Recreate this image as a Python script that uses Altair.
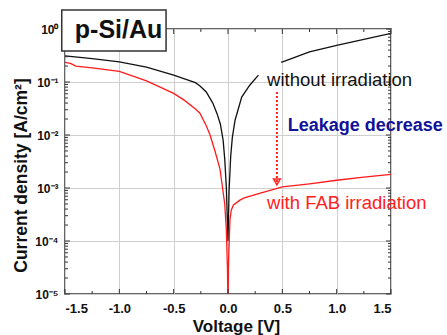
import altair as alt
import pandas as pd

# ---- data ----
black_v = [-1.5, -1.25, -1.0, -0.75, -0.5, -0.4, -0.3, -0.26, -0.2, -0.14, -0.1, -0.07, -0.045,
           -0.03, -0.015, 0.0, 0.01, 0.025, 0.04, 0.065, 0.126, 0.2, 0.28,
           0.49, 0.75, 1.0, 1.25, 1.5]
black_j = [0.31, 0.275, 0.24, 0.19, 0.135, 0.115, 0.097, 0.085, 0.065, 0.04, 0.025, 0.016, 0.008,
           0.0035, 0.001, 0.0001, 0.0009, 0.004, 0.009, 0.019, 0.052, 0.087, 0.135,
           0.235, 0.37, 0.49, 0.64, 0.83]
black_seg = [0] * 23 + [1] * 5

red_v = [-1.5, -1.45, -1.4, -1.25, -1.0, -0.75, -0.5, -0.4, -0.3, -0.26, -0.2, -0.165, -0.12,
         -0.074, -0.05, -0.03, -0.015, -0.005, 0.0, 0.004, 0.008, 0.018, 0.03, 0.05, 0.11,
         0.15, 0.29, 0.5, 0.75, 1.0, 1.25, 1.5]
red_j = [0.235, 0.225, 0.2, 0.185, 0.158, 0.105, 0.061, 0.045, 0.031, 0.026, 0.015, 0.01, 0.005,
         0.0023, 0.001, 0.0005, 0.00016, 0.00003, 0.000005, 0.00003, 0.000063, 0.00025, 0.00038,
         0.00048, 0.00059, 0.00065, 0.00079, 0.00105, 0.0012, 0.0014, 0.0016, 0.0018]

x_major = [-1.5, -1.0, -0.5, 0.0, 0.5, 1.0, 1.5]
x_minor = [-1.25, -0.75, -0.25, 0.25, 0.75, 1.25]
y_major = [1e-5, 1e-4, 1e-3, 1e-2, 1e-1, 1.0]
mantissas = [2, 3, 4, 5, 6, 7, 8, 9]
y_minor = [m * d for d in [1e-5, 1e-4, 1e-3, 1e-2, 1e-1] for m in mantissas]

arrow_v = [0.45]
arrow_top = [0.065]
arrow_bottom = [0.0013]

labels_text = ["without irradiation", "Leakage decrease", "with FAB irradiation"]
labels_v = [0.36, 0.55, 0.36]
labels_j = [0.109, 0.0148, 0.00052]
labels_color = ["#111111", "#10109a", "#ff2020"]
labels_weight = ["normal", "bold", "normal"]

box_v = [-1.53]
box_v2 = [-0.57]
box_j = [2.28]
box_j2 = [0.385]
box_tv = [-1.007]
box_tj = [0.957]

W, H = 326, 265
FONT = "Liberation Sans"
GRID = "#cfcfcf"
TICK = "#333333"

xs = alt.Scale(domain=[-1.5, 1.5], nice=False, zero=False)
ys = alt.Scale(type="log", domain=[1e-5, 1.0], nice=False)

black_df = pd.DataFrame({"V": black_v, "J": black_j, "seg": black_seg})
red_df = pd.DataFrame({"V": red_v, "J": red_j})

y_label_expr = ("datum.value >= 0.5 ? '10⁰' : datum.value >= 0.05 ? '10⁻¹' : "
                "datum.value >= 0.005 ? '10⁻²' : datum.value >= 0.0005 ? '10⁻³' : "
                "datum.value >= 0.00005 ? '10⁻⁴' : '10⁻⁵'")

black = alt.Chart(black_df).mark_line(color="#111111", strokeWidth=1.3, clip=True).encode(
    x=alt.X("V:Q", scale=xs, axis=alt.Axis(
        values=x_major, grid=True, gridColor=GRID, gridWidth=1, ticks=False, domain=False,
        labelExpr="replace(datum.label, '−', '-')",
        labelFont=FONT, labelFontWeight="bold", labelFontSize=13, labelColor="#111111",
        labelPadding=8,
        title="Voltage [V]", titleFont=FONT, titleFontWeight="bold", titleFontSize=17,
        titleColor="#111111", titleX=171, titleY=32, titleBaseline="middle",
        titleAlign="center")),
    y=alt.Y("J:Q", scale=ys, axis=alt.Axis(
        values=y_major, grid=True, gridColor=GRID, gridWidth=1, ticks=False, domain=False,
        labelExpr=y_label_expr,
        labelFont=FONT, labelFontWeight="bold", labelFontSize=12, labelColor="#111111",
        labelPadding=7,
        title="Current density [A/cm²]", titleFont=FONT, titleFontWeight="bold",
        titleFontSize=17.5, titleColor="#111111", titleX=-44, titleY=146,
        titleBaseline="middle", titleAlign="center", titleAngle=270)),
    detail="seg:N")

red = alt.Chart(red_df).mark_line(color="#ff1a1a", strokeWidth=1.3, clip=True).encode(
    x=alt.X("V:Q", scale=xs), y=alt.Y("J:Q", scale=ys))


def xticks(vals, length):
    d = pd.DataFrame({"V": vals})
    bot = alt.Chart(d).mark_rule(color=TICK, strokeWidth=1).encode(
        x=alt.X("V:Q", scale=xs), y=alt.value(H), y2=alt.value(H - length))
    top = alt.Chart(d).mark_rule(color=TICK, strokeWidth=1).encode(
        x=alt.X("V:Q", scale=xs), y=alt.value(0), y2=alt.value(length))
    return [bot, top]


def yticks(vals, length):
    d = pd.DataFrame({"J": vals})
    left = alt.Chart(d).mark_rule(color=TICK, strokeWidth=1).encode(
        y=alt.Y("J:Q", scale=ys), x=alt.value(0), x2=alt.value(length))
    right = alt.Chart(d).mark_rule(color=TICK, strokeWidth=1).encode(
        y=alt.Y("J:Q", scale=ys), x=alt.value(W), x2=alt.value(W - length))
    return [left, right]


arrow_df = pd.DataFrame({"V": arrow_v, "J": arrow_top, "J2": arrow_bottom})
arrow_line = alt.Chart(arrow_df).mark_rule(color="#ff2020", strokeWidth=2, strokeDash=[2, 2]).encode(
    x=alt.X("V:Q", scale=xs), y=alt.Y("J:Q", scale=ys), y2="J2:Q")
arrow_head = alt.Chart(arrow_df).mark_point(
    shape="triangle-down", filled=False, color="#ff2020", strokeWidth=1.5, size=45,
    opacity=1).encode(x=alt.X("V:Q", scale=xs), y=alt.Y("J2:Q", scale=ys))

ann_df = pd.DataFrame({"V": labels_v, "J": labels_j, "t": labels_text,
                       "c": labels_color, "w": labels_weight})
ann_normal = alt.Chart(ann_df).transform_filter("datum.w == 'normal'").mark_text(
    align="left", baseline="middle", font=FONT, fontSize=18.5).encode(
    x=alt.X("V:Q", scale=xs), y=alt.Y("J:Q", scale=ys), text="t:N",
    color=alt.Color("c:N", scale=None))
ann_bold = alt.Chart(ann_df).transform_filter("datum.w == 'bold'").mark_text(
    align="left", baseline="middle", font=FONT, fontSize=18, fontWeight="bold").encode(
    x=alt.X("V:Q", scale=xs), y=alt.Y("J:Q", scale=ys), text="t:N",
    color=alt.Color("c:N", scale=None))

box_df = pd.DataFrame({"V": box_v, "V2": box_v2, "J": box_j, "J2": box_j2,
                       "TV": box_tv, "TJ": box_tj, "t": ["p-Si/Au"]})
box = alt.Chart(box_df).mark_rect(fill="white", stroke="#333333", strokeWidth=1.5).encode(
    x=alt.X("V:Q", scale=xs), x2="V2:Q", y=alt.Y("J:Q", scale=ys), y2="J2:Q")
box_text = alt.Chart(box_df).mark_text(
    align="center", baseline="middle", font=FONT, fontWeight="bold",
    fontSize=25, color="#111111").encode(
    x=alt.X("TV:Q", scale=xs), y=alt.Y("TJ:Q", scale=ys), text="t:N")

chart = alt.layer(
    black, red,
    *xticks(x_major, 5), *xticks(x_minor, 3),
    *yticks(y_major, 5), *yticks(y_minor, 3),
    arrow_line, arrow_head, ann_normal, ann_bold, box, box_text,
).properties(
    width=W, height=H,
    autosize=alt.AutoSizeParams(type="none"),
    padding={"left": 65, "top": 29, "right": 56, "bottom": 41},
    background="white",
).configure_view(stroke="#333333", strokeWidth=1.5)

chart.save("out.html", embed_options={"renderer": "svg", "actions": False})
